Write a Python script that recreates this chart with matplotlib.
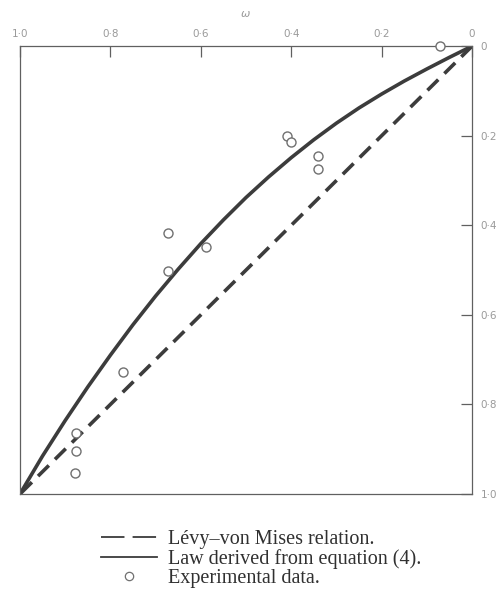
import numpy as np
import matplotlib
matplotlib.use("Agg")
import matplotlib.pyplot as plt
from matplotlib.lines import Line2D

# Levy-von Mises relation (straight diagonal)
levy_x = [0.0, 1.0]
levy_y = [0.0, 1.0]

# law derived from equation (4)
law_x = [0.0, 0.05, 0.1, 0.15, 0.2, 0.25, 0.3, 0.35, 0.4, 0.45, 0.5,
         0.55, 0.6, 0.65, 0.7, 0.75, 0.8, 0.85, 0.9, 0.95, 1.0]
law_y = [0.0, 0.025, 0.051, 0.078, 0.107, 0.138, 0.172, 0.209, 0.249, 0.292, 0.338,
         0.388, 0.441, 0.498, 0.558, 0.622, 0.690, 0.761, 0.836, 0.915, 1.0]

# experimental points
exp_x = [0.07, 0.41, 0.40, 0.34, 0.34, 0.673, 0.673, 0.588, 0.772, 0.876, 0.876, 0.878]
exp_y = [0.0, 0.20, 0.215, 0.245, 0.275, 0.417, 0.502, 0.449, 0.728, 0.864, 0.904, 0.953]

ticks = [1.0, 0.8, 0.6, 0.4, 0.2, 0.0]
x_labels = ["1·0", "0·8", "0·6", "0·4", "0·2", "0"]
y_labels = ["0", "0·2", "0·4", "0·6", "0·8", "1·0"]

line_col = "#3c3c3c"
frame_col = "#606060"
label_col = "#9a9a9a"

fig = plt.figure(figsize=(4.98, 5.91), dpi=100)
ax = fig.add_axes([0.040, 0.164, 0.908, 0.758])

ax.plot(levy_x, levy_y, color=line_col, lw=2.6, dashes=(4.2, 2.4), solid_capstyle="butt")
ax.plot(law_x, law_y, color=line_col, lw=2.6, solid_joinstyle="round")
ax.plot(exp_x, exp_y, "o", ms=6.5, mfc="white", mec="#707070", mew=1.0,
        clip_on=False, zorder=5)

ax.set_xlim(1.0, 0.0)
ax.set_ylim(1.0, 0.0)

ax.xaxis.tick_top()
ax.yaxis.tick_right()
ax.set_xticks(ticks)
ax.set_xticklabels(x_labels)
ax.set_yticks(sorted(ticks))
ax.set_yticklabels(y_labels)
ax.tick_params(axis="both", direction="in", length=8, width=0.9, color=frame_col,
               labelcolor=label_col, labelsize=7.5, pad=6)
ax.tick_params(axis="x", pad=5)

ax.xaxis.set_label_position("top")
ax.set_xlabel("ω", color=label_col, fontsize=8, style="italic", labelpad=9)

for s in ax.spines.values():
    s.set_color(frame_col)
    s.set_linewidth(0.9)

handles = [
    Line2D([], [], color=line_col, lw=1.3, dashes=(13, 4.5)),
    Line2D([], [], color=line_col, lw=1.3),
    Line2D([], [], ls="none", marker="o", ms=6, mfc="white", mec="#707070", mew=0.9),
]
labels = ["Lévy–von Mises relation.", "Law derived from equation (4).", "Experimental data."]
fig.legend(handles, labels, loc="upper left", bbox_to_anchor=(0.182, 0.121),
           frameon=False, handlelength=2.8, handletextpad=0.55, labelspacing=0.0,
           borderpad=0, prop={"family": "Liberation Serif", "size": 14.5},
           labelcolor="#303030")

fig.savefig("out.png", dpi=100)
